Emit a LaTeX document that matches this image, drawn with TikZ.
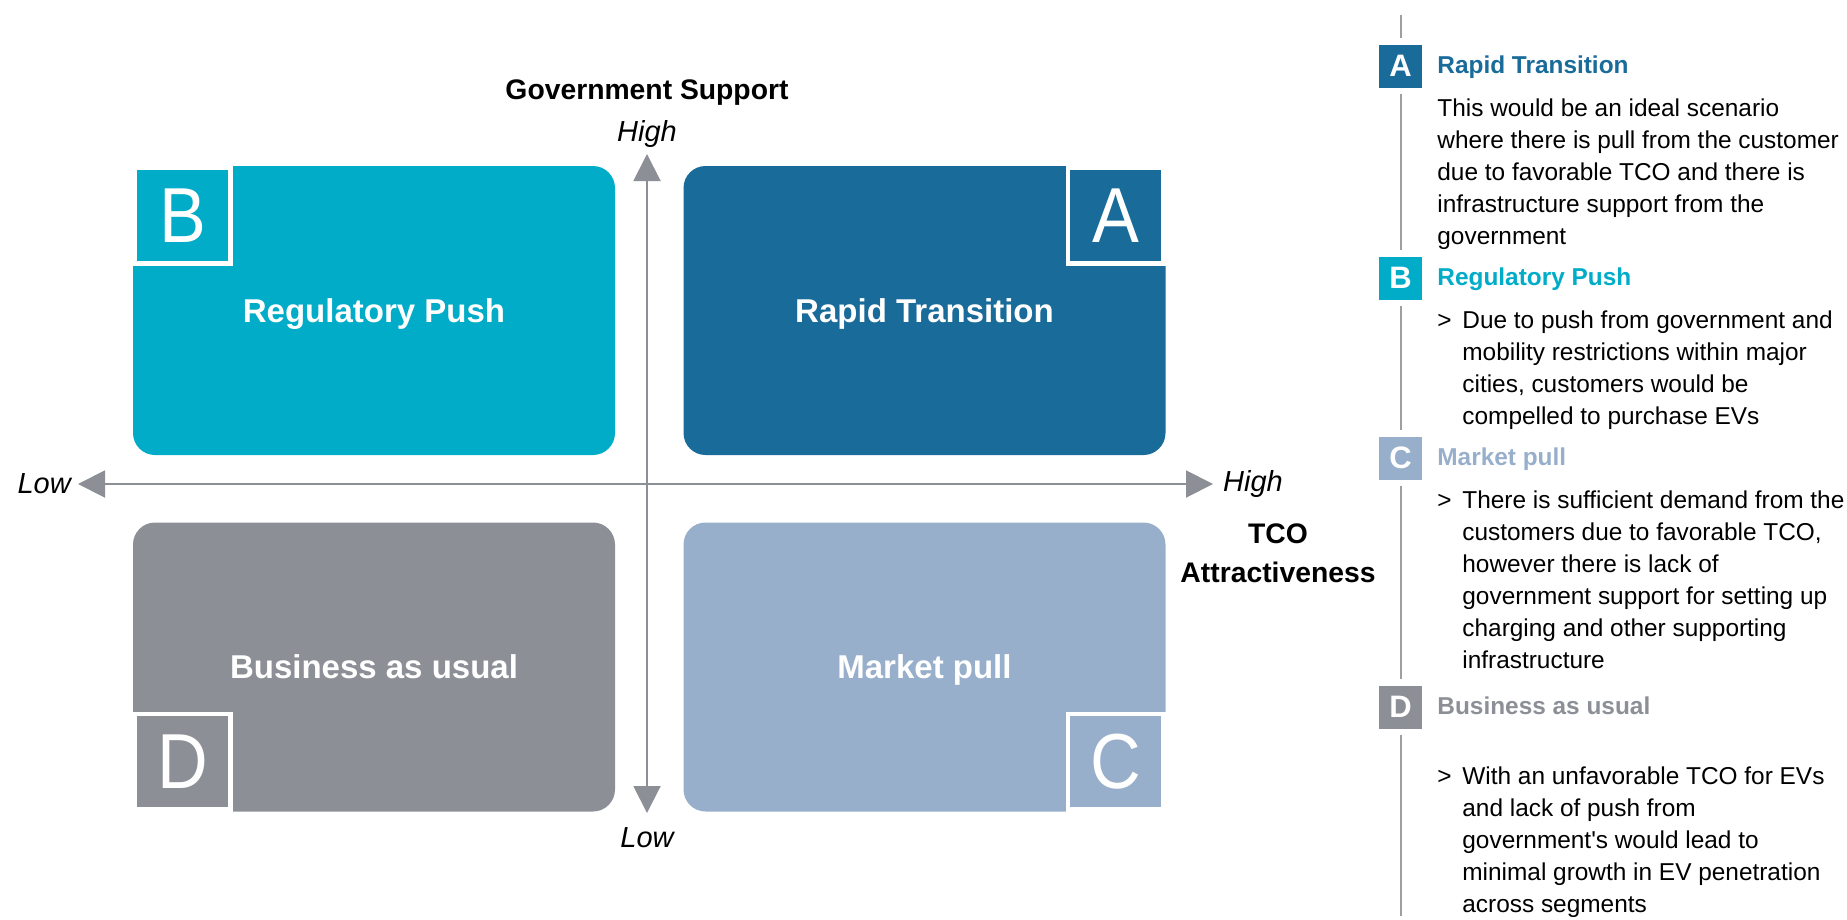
\documentclass[tikz,border=0pt]{standalone}
\usepackage{fontspec}
\setmainfont{Liberation Sans}
\usetikzlibrary{arrows.meta,positioning}
\definecolor{PushCyan}{HTML}{00ACC8}
\definecolor{RapidBlue}{HTML}{196B9A}
\definecolor{PullBlue}{HTML}{98AFCB}
\definecolor{UsualGray}{HTML}{8C9096}
\definecolor{RuleGray}{HTML}{9D9FA2}
\newcommand{\fsize}[2]{\fontsize{#1}{#2}\selectfont}
\tikzset{
  quad/.style={rectangle, rounded corners=22pt, minimum width=482pt, minimum height=289pt, inner sep=0pt, text depth=0pt, text=white, font=\fsize{33}{40}\bfseries},
  corner/.style={draw=white, line width=4.5pt, minimum size=95.5pt, inner sep=0pt, text=white, font=\fsize{78}{80}},
  axis/.style={draw=UsualGray, line width=2pt, {Triangle[length=27pt,width=27pt]}-{Triangle[length=27pt,width=27pt]}},
  axlabel/.style={font=\fsize{29}{34}\itshape, inner sep=0pt},
  axtitle/.style={font=\fsize{28.3}{39}\bfseries, inner sep=0pt, align=center},
  tag/.style={minimum size=43pt, inner sep=0pt, text=white, font=\fsize{31}{32}\bfseries},
  head/.style={font=\fsize{24.4}{32}\bfseries, inner sep=0pt, anchor=base west},
  body/.style={font=\fsize{24.4}{32}, inner sep=0pt, align=left, anchor=north west},
  bullet/.style={font=\fsize{24.4}{32}, inner sep=0pt, anchor=base west},
  rule/.style={draw=RuleGray, line width=2pt, shorten <=6pt, shorten >=6pt}
}
\begin{document}
\begin{tikzpicture}[x=1pt, y=-1pt]
\useasboundingbox (0,0) rectangle (1847,919);

% the four scenarios
\node[quad, fill=PushCyan]  (qB) at (374,310.5)   {Regulatory Push};
\node[quad, fill=RapidBlue] (qA) at (924.5,310.5) {Rapid Transition};
\node[quad, fill=UsualGray] (qD) at (374,667)     {Business as usual};
\node[quad, fill=PullBlue]  (qC) at (924.5,667)   {Market pull};

\node[corner, fill=PushCyan, anchor=north west]  (cB) at (qB.north west) {\scalebox{0.9}[1]{B}};
\node[corner, fill=RapidBlue, anchor=north east] (cA) at (qA.north east) {\scalebox{0.9}[1]{A}};
\node[corner, fill=UsualGray, anchor=south west] (cD) at (qD.south west) {\scalebox{0.9}[1]{D}};
\node[corner, fill=PullBlue, anchor=south east]  (cC) at (qC.south east) {\scalebox{0.9}[1]{C}};

% axes
\coordinate (xL) at (78,484);
\coordinate (xR) at (1213,484);
\coordinate (yT) at (647,154);
\coordinate (yB) at (647,813);
\draw[axis] (xL) -- (xR);
\draw[axis] (yB) -- (yT);

\node[axlabel, left=7pt of xL]   (xLow)  {Low};
\node[axlabel, right=10pt of xR] (xHigh) {High};
\node[axlabel, above=6pt of yT]  (yHigh) {High};
\node[axlabel, below=14pt of yB] (yLow)  {Low};
\node[axtitle, above=15pt of yHigh] (gov) {Government Support};
\node[axtitle, anchor=north] (tco) at (1278,515.7) {\strut TCO\\Attractiveness};

% legend on the right
\coordinate (rTop) at (1400.5,15);
\coordinate (rBot) at (1400.5,916);

\node[tag, fill=RapidBlue] (tA) at (1400.5,66) {A};
\node[head, text=RapidBlue] (hA) at ([xshift=15pt,yshift=-7pt]tA.east) {Rapid Transition};
\node[body] (pA) at ([yshift=-20.6pt]hA.base west)
  {\strut This would be an ideal scenario\\where there is pull from the customer\\due to favorable TCO and there is\\infrastructure support from the\\government};

\node[tag, fill=PushCyan] (tB) at (1400.5,278) {B};
\node[head, text=PushCyan] (hB) at ([xshift=15pt,yshift=-7pt]tB.east) {Regulatory Push};
\node[bullet] (gB) at ([yshift=-43pt]hB.base west) {>};
\node[body] (pB) at ([xshift=25pt,yshift=-20.6pt]hB.base west)
  {\strut Due to push from government and\\mobility restrictions within major\\cities, customers would be\\compelled to purchase EVs};

\node[tag, fill=PullBlue] (tC) at (1400.5,458) {C};
\node[head, text=PullBlue] (hC) at ([xshift=15pt,yshift=-7pt]tC.east) {Market pull};
\node[bullet] (gC) at ([yshift=-43pt]hC.base west) {>};
\node[body] (pC) at ([xshift=25pt,yshift=-20.6pt]hC.base west)
  {\strut There is sufficient demand from the\\customers due to favorable TCO,\\however there is lack of\\government support for setting up\\charging and other supporting\\infrastructure};

\node[tag, fill=UsualGray] (tD) at (1400.5,707) {D};
\node[head, text=UsualGray] (hD) at ([xshift=15pt,yshift=-7pt]tD.east) {Business as usual};
\node[bullet] (gD) at ([yshift=-70pt]hD.base west) {>};
\node[body] (pD) at ([xshift=25pt,yshift=-47.6pt]hD.base west)
  {\strut With an unfavorable TCO for EVs\\and lack of push from\\government\textquotesingle s would lead to\\minimal growth in EV penetration\\across segments};

\draw[rule, shorten <=0pt] (rTop) -- (tA);
\draw[rule] (tA) -- (tB);
\draw[rule] (tB) -- (tC);
\draw[rule] (tC) -- (tD);
\draw[rule, shorten >=0pt] (tD) -- (rBot);
\end{tikzpicture}
\end{document}
